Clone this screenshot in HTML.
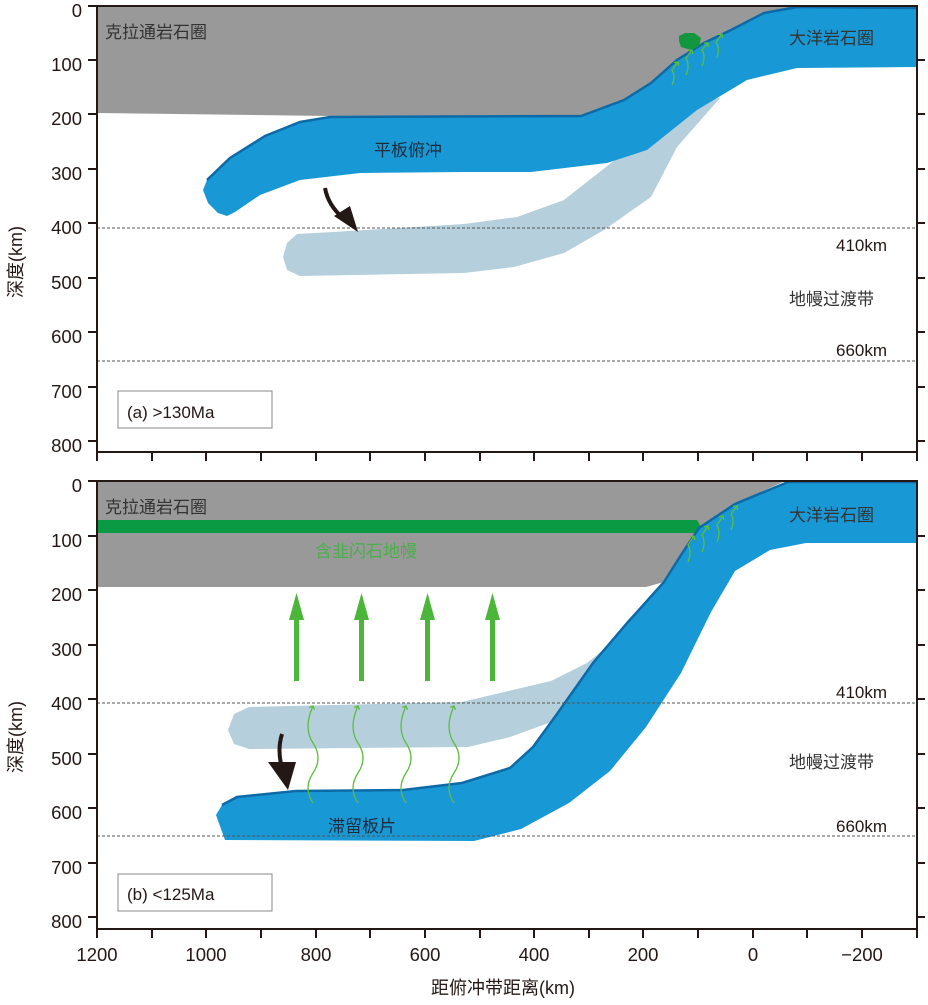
<!DOCTYPE html>
<html><head><meta charset="utf-8"><style>
body{margin:0;background:#fff}
svg text{font-family:"Liberation Sans","Noto Sans CJK SC",sans-serif}
</style></head><body>
<svg width="928" height="1000" viewBox="0 0 928 1000" xmlns="http://www.w3.org/2000/svg">
<defs>
<marker id="ga" markerWidth="6" markerHeight="6" refX="3" refY="3" orient="auto" markerUnits="userSpaceOnUse"><path d="M0,0 L3,3 L0,6" fill="none" stroke="#5bbf3a" stroke-width="1.3"/></marker>
</defs>
<!-- ===== Panel A ===== -->
<g>
<polygon points="97,6 797,6 764,13 731,30 704,43 677,60 651,83 624,100 581,115 330,116 97,113" fill="#999"/>
<polygon points="464,224 333,232 297,234 287,243 283,257 287,270 300,276 464,273 514,267 564,253 604,230 651,197 677,147 721,97 691,107 651,133 611,163 564,200 517,217" fill="#b5cfdc"/>
<path d="M917,8 L797,7 764,13 731,30 704,43 677,60 651,83 624,100 581,116 330,117 300,122 265,136 230,158 207,180 203,190 208,203 218,213 227,216 235,212 260,195 300,180 360,173 464,172 531,172 607,163 647,150 697,110 747,80 797,68 917,67 Z" fill="#1899d6"/>
<path d="M917,8 L797,7 764,13 731,30 704,43 677,60 651,83 624,100 581,116 330,117 300,122 265,136 230,158 207,180" fill="none" stroke="#0d6aa6" stroke-width="2.5"/>
<line x1="97" y1="228" x2="917" y2="228" stroke="#555" stroke-dasharray="3,2" stroke-width="1"/>
<line x1="97" y1="361" x2="917" y2="361" stroke="#555" stroke-dasharray="3,2" stroke-width="1"/>
<polygon points="679,36 685,33 694,33 701,38 699,46 691,50 681,47 679,41" fill="#12963e"/>
<g fill="none" stroke="#5bbf3a" stroke-width="1.3" marker-end="url(#ga)">
<path d="M672,85 Q676,77 672,70 L678,62"/><path d="M686,75 Q690,66 686,58 L692,50"/><path d="M702,66 Q706,57 702,50 L708,43"/><path d="M717,58 Q720,48 716,42 L722,34"/>
</g>
<path d="M325,188 Q328,205 343,218" fill="none" stroke="#231815" stroke-width="4"/>
<polygon points="334,216 358,232 350,206" fill="#231815"/>
<rect x="97" y="6" width="820" height="446" fill="none" stroke="#231815" stroke-width="2"/>
<g stroke="#231815" stroke-width="2">
<line x1="88" y1="6" x2="97" y2="6"/><line x1="88" y1="60" x2="97" y2="60"/><line x1="88" y1="114" x2="97" y2="114"/><line x1="88" y1="169" x2="97" y2="169"/><line x1="88" y1="223" x2="97" y2="223"/><line x1="88" y1="278" x2="97" y2="278"/><line x1="88" y1="332" x2="97" y2="332"/><line x1="88" y1="387" x2="97" y2="387"/><line x1="88" y1="441" x2="97" y2="441"/>
<line x1="917" y1="60" x2="925" y2="60"/><line x1="917" y1="114" x2="925" y2="114"/><line x1="917" y1="169" x2="925" y2="169"/><line x1="917" y1="223" x2="925" y2="223"/><line x1="917" y1="278" x2="925" y2="278"/><line x1="917" y1="332" x2="925" y2="332"/><line x1="917" y1="387" x2="925" y2="387"/><line x1="917" y1="441" x2="925" y2="441"/>
<path d="M97,452v9M152,452v9M206,452v9M261,452v9M316,452v9M370,452v9M425,452v9M480,452v9M534,452v9M589,452v9M643,452v9M698,452v9M753,452v9M807,452v9M862,452v9M917,452v9"/>
</g>
<g font-size="18.5" fill="#231815" text-anchor="end">
<text x="82" y="17">0</text><text x="82" y="71">100</text><text x="82" y="125">200</text><text x="82" y="180">300</text><text x="82" y="234">400</text><text x="82" y="289">500</text><text x="82" y="343">600</text><text x="82" y="398">700</text><text x="82" y="452">800</text>
</g>
<text transform="translate(22,262) rotate(-90)" font-size="18" fill="#231815" text-anchor="middle">深度(km)</text>
<g font-size="17" fill="#333">
<text x="105" y="38">克拉通岩石圈</text>
<text x="374" y="156" fill="#1d2b3a">平板俯冲</text>
<text x="789" y="44">大洋岩石圈</text>
<text x="836" y="251" fill="#231815">410km</text>
<text x="789" y="305">地幔过渡带</text>
<text x="836" y="356" fill="#231815">660km</text>
</g>
<rect x="118" y="391" width="154" height="37" fill="#fff" stroke="#888" stroke-width="1"/>
<text x="127" y="418" font-size="17" fill="#231815">(a) &gt;130Ma</text>
</g>
<!-- ===== Panel B ===== -->
<g>
<polygon points="97,481 785,481 735,504 699,528 681,555 664,582 646,587 97,587" fill="#999"/>
<polygon points="97,520 697,520 701,527 697,533 97,533" fill="#0a9a44"/>
<polygon points="640,620 587,663 551,681 462,702 249,707 234,714 228,730 234,744 249,749 468,747 510,737 557,720 600,700" fill="#b5cfdc"/>
<path d="M788,482 L917,482 917,543 806,543 770,550 735,571 711,612 681,673 646,727 610,771 569,803 521,829 474,841 225,840 216,815 222,805 237,797 296,791 403,790 462,783 510,768 533,747 557,714 593,663 628,622 664,582 681,555 699,528 735,504 Z" fill="#1899d6"/>
<path d="M917,482 L788,482 735,504 699,528 681,555 664,582 628,622 593,663 557,714 533,747 510,768 462,783 403,790 296,791 237,797 222,805" fill="none" stroke="#0d6aa6" stroke-width="2.5"/>
<line x1="97" y1="703" x2="917" y2="703" stroke="#555" stroke-dasharray="3,2" stroke-width="1"/>
<line x1="97" y1="836" x2="917" y2="836" stroke="#555" stroke-dasharray="3,2" stroke-width="1"/>
<g fill="none" stroke="#5bbf3a" stroke-width="1.3" marker-end="url(#ga)">
<path d="M688,562 Q692,552 688,545 L694,536"/><path d="M702,552 Q706,542 702,535 L708,526"/><path d="M717,542 Q721,532 717,525 L723,516"/><path d="M731,530 Q735,520 731,514 L737,506"/>
<path d="M313,803 Q303,788 313,773 Q323,758 313,743 Q303,728 313,706"/>
<path d="M358,803 Q348,788 358,773 Q368,758 358,743 Q348,728 358,706"/>
<path d="M406,803 Q396,788 406,773 Q416,758 406,743 Q396,728 406,706"/>
<path d="M454,803 Q444,788 454,773 Q464,758 454,743 Q444,728 454,706"/>
</g>
<g fill="#4cb63a">
<rect x="294" y="618" width="5" height="63"/><polygon points="289,620 304,620 296.5,593"/>
<rect x="359" y="618" width="5" height="63"/><polygon points="354,620 369,620 361.5,593"/>
<rect x="425" y="618" width="5" height="63"/><polygon points="420,620 435,620 427.5,593"/>
<rect x="490" y="618" width="5" height="63"/><polygon points="485,620 500,620 492.5,593"/>
</g>
<path d="M282,734 Q277,750 282,768" fill="none" stroke="#231815" stroke-width="4"/>
<polygon points="268,762 296,762 288,790" fill="#231815"/>
<rect x="97" y="481" width="820" height="448" fill="none" stroke="#231815" stroke-width="2"/>
<g stroke="#231815" stroke-width="2">
<line x1="88" y1="481" x2="97" y2="481"/><line x1="88" y1="536" x2="97" y2="536"/><line x1="88" y1="590" x2="97" y2="590"/><line x1="88" y1="645" x2="97" y2="645"/><line x1="88" y1="699" x2="97" y2="699"/><line x1="88" y1="754" x2="97" y2="754"/><line x1="88" y1="808" x2="97" y2="808"/><line x1="88" y1="863" x2="97" y2="863"/><line x1="88" y1="917" x2="97" y2="917"/>
<line x1="917" y1="536" x2="925" y2="536"/><line x1="917" y1="590" x2="925" y2="590"/><line x1="917" y1="645" x2="925" y2="645"/><line x1="917" y1="699" x2="925" y2="699"/><line x1="917" y1="754" x2="925" y2="754"/><line x1="917" y1="808" x2="925" y2="808"/><line x1="917" y1="863" x2="925" y2="863"/><line x1="917" y1="917" x2="925" y2="917"/>
<path d="M97,929v9M152,929v9M206,929v9M261,929v9M316,929v9M370,929v9M425,929v9M480,929v9M534,929v9M589,929v9M643,929v9M698,929v9M753,929v9M807,929v9M862,929v9M917,929v9"/>
</g>
<g font-size="18.5" fill="#231815" text-anchor="end">
<text x="82" y="492">0</text><text x="82" y="547">100</text><text x="82" y="601">200</text><text x="82" y="656">300</text><text x="82" y="710">400</text><text x="82" y="765">500</text><text x="82" y="819">600</text><text x="82" y="874">700</text><text x="82" y="928">800</text>
</g>
<text transform="translate(22,737) rotate(-90)" font-size="18" fill="#231815" text-anchor="middle">深度(km)</text>
<g font-size="18.5" fill="#231815" text-anchor="middle">
<text x="97" y="961">1200</text><text x="206" y="961">1000</text><text x="316" y="961">800</text><text x="425" y="961">600</text><text x="534" y="961">400</text><text x="643" y="961">200</text><text x="753" y="961">0</text><text x="862" y="961">−200</text>
</g>
<text x="503" y="994" font-size="18" fill="#231815" text-anchor="middle">距俯冲带距离(km)</text>
<g font-size="17" fill="#333">
<text x="105" y="513">克拉通岩石圈</text>
<text x="315" y="557" fill="#4cae4c">含韭闪石地幔</text>
<text x="789" y="521">大洋岩石圈</text>
<text x="836" y="698" fill="#231815">410km</text>
<text x="789" y="768">地幔过渡带</text>
<text x="836" y="832" fill="#231815">660km</text>
<text x="328" y="832" fill="#1d2b3a">滞留板片</text>
</g>
<rect x="118" y="874" width="154" height="37" fill="#fff" stroke="#888" stroke-width="1"/>
<text x="127" y="900" font-size="17" fill="#231815">(b) &lt;125Ma</text>
</g>
</svg>
</body></html>
